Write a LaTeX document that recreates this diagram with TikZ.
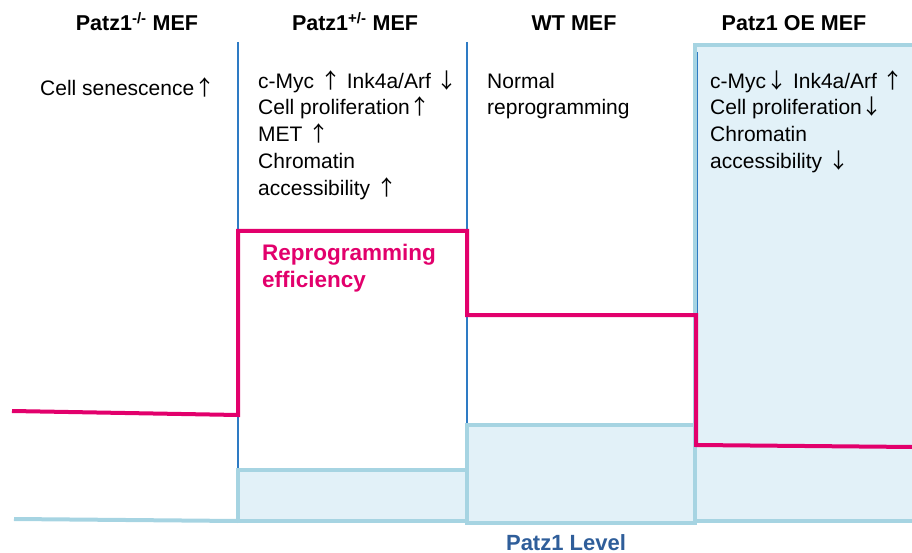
\documentclass[tikz,border=0pt]{standalone}
\usepackage{fontspec}
\setmainfont{Liberation Sans}
\newfontfamily\arrowfont{Noto Sans CJK SC}
\newcommand{\arrup}{{\arrowfont ↑}}
\newcommand{\arrdn}{{\arrowfont ↓}}
\definecolor{effpink}{HTML}{E2006C}
\definecolor{levelline}{HTML}{A6D4E2}
\definecolor{levelfill}{HTML}{E2F1F8}
\definecolor{divider}{HTML}{2E7BC4}
\definecolor{leveltext}{HTML}{2F5E9A}
\begin{document}
\begin{tikzpicture}[x=1pt,y=-1pt,
  body/.style={anchor=base west,inner sep=0pt,font=\fontsize{21}{26}\selectfont},
  head/.style={anchor=base,inner sep=0pt,font=\fontsize{21.5}{26}\selectfont\bfseries},
  efftext/.style={anchor=base west,inner sep=0pt,text=effpink,font=\fontsize{22.5}{26}\selectfont\bfseries},
  effline/.style={draw=effpink,line width=4pt,line join=miter},
  lvline/.style={draw=levelline,line width=4pt,line join=miter},
  sep/.style={draw=divider,line width=1.3pt}]
\useasboundingbox (0,0) rectangle (912,553);

% Patz1 level bars: fills
\fill[levelfill] (238,470) rectangle (467,521);
\fill[levelfill] (467,425) rectangle (695,523);
\fill[levelfill] (695,45) rectangle (914,521);

% column dividers
\coordinate (d1t) at (238,42);
\coordinate (d1b) at (238,470);
\coordinate (d2t) at (467,42);
\coordinate (d2b) at (467,425);
\coordinate (d3t) at (697,52);
\coordinate (d3b) at (697,445);
\draw[sep] (d1t) -- (d1b);
\draw[sep] (d2t) -- (d2b);
\draw[sep] (d3t) -- (d3b);

% Patz1 level outline
\draw[lvline] (14,519) -- (238,521);
\draw[lvline] (238,521) -- (238,470) -- (467,470) -- (467,521) -- cycle;
\draw[lvline] (467,523) -- (467,425) -- (695,425) -- (695,523) -- cycle;
\draw[lvline] (916,521) -- (695,521) -- (695,45) -- (916,45);

% reprogramming efficiency curve
\draw[effline] (12,411) -- (238,415) -- (238,231) -- (467,231) -- (467,315)
  -- (696,315) -- (696,445) -- (914,447);

% column headings
\node[head] (h1) at (137,31) {Patz1\textsuperscript{-/-} MEF};
\node[head] (h2) at (355,31) {Patz1\textsuperscript{+/-} MEF};
\node[head] (h3) at (574,31) {WT MEF};
\node[head] (h4) at (794,31) {Patz1 OE MEF};

% column 1
\node[body] (c1a) at (40,96) {Cell senescence\arrup};

% column 2
\node[body] (c2a) at (258,89) {c-Myc \arrup{} Ink4a/Arf \arrdn};
\node[body] (c2b) at (258,115) {Cell proliferation\arrup};
\node[body] (c2c) at (258,142) {MET \arrup};
\node[body] (c2d) at (258,169) {Chromatin};
\node[body] (c2e) at (258,196) {accessibility \arrup};

% column 3
\node[body] (c3a) at (487,89) {Normal};
\node[body] (c3b) at (487,115) {reprogramming};

% column 4
\node[body] (c4a) at (710,89) {c-Myc\arrdn{} Ink4a/Arf \arrup};
\node[body] (c4b) at (710,115) {Cell proliferation\arrdn};
\node[body] (c4c) at (710,142) {Chromatin};
\node[body] (c4d) at (710,169) {accessibility \arrdn};

% curve labels
\node[efftext] (eff1) at (262,261) {Reprogramming};
\node[efftext] (eff2) at (262,287) {efficiency};
\node[anchor=base,inner sep=0pt,text=leveltext,font=\fontsize{22}{26}\selectfont\bfseries] (lvl) at (566,550) {Patz1 Level};
\end{tikzpicture}
\end{document}
